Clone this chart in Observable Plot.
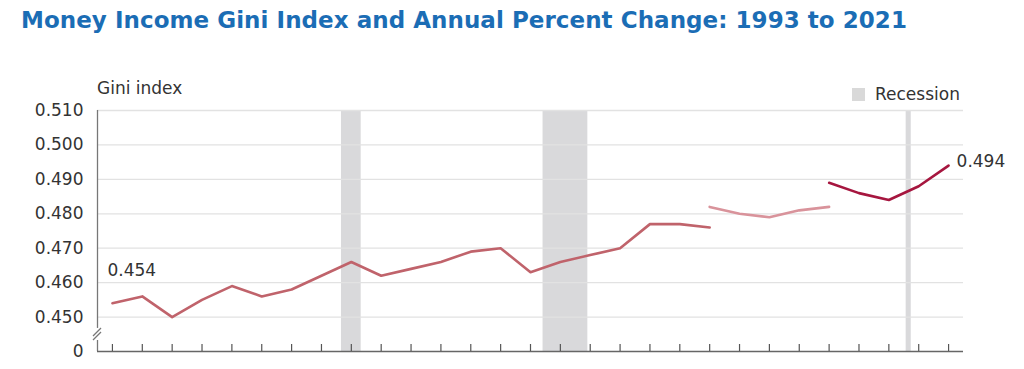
<!DOCTYPE html>
<html><head><meta charset="utf-8">
<script src="https://cdn.jsdelivr.net/npm/d3@7"></script>
<script src="https://cdn.jsdelivr.net/npm/@observablehq/plot@0.6"></script>
<style>
body{margin:0;background:#fff;font-family:"DejaVu Sans",sans-serif;}
#wrap{position:relative;width:1024px;height:369px;overflow:hidden;background:#fff;}
#title{position:absolute;left:21px;top:9px;font-size:23px;line-height:23px;font-weight:bold;color:#1b6db5;white-space:nowrap;letter-spacing:0.05px;}
#chart{position:absolute;left:0;top:42px;}
#ylabel{position:absolute;left:97px;top:80px;font-size:17px;line-height:17px;color:#333;z-index:2;}
#legend{position:absolute;left:852px;top:86px;font-size:17px;line-height:17px;color:#333;z-index:2;white-space:nowrap;}
#legend .sw{display:inline-block;width:13px;height:13px;background:#d9d9d9;margin-right:10px;vertical-align:-1px;}
</style></head><body>
<div id="wrap">
  <div id="chart"></div>
  <div id="title">Money Income Gini Index and Annual Percent Change: 1993 to 2021</div>
  <div id="ylabel">Gini index</div>
  <div id="legend"><span class="sw"></span>Recession</div>
</div>
<script>
// ---- data ----
const years1 = [1993,1994,1995,1996,1997,1998,1999,2000,2001,2002,2003,2004,2005,2006,2007,2008,2009,2010,2011,2012,2013];
const gini1  = [0.454,0.456,0.450,0.455,0.459,0.456,0.458,0.462,0.466,0.462,0.464,0.466,0.469,0.470,0.463,0.466,0.468,0.470,0.477,0.477,0.476];
const years2 = [2013,2014,2015,2016,2017];
const gini2  = [0.482,0.480,0.479,0.481,0.482];
const years3 = [2017,2018,2019,2020,2021];
const gini3  = [0.489,0.486,0.484,0.488,0.494];
const recessionStart = [2000.67, 2007.42, 2019.58];
const recessionEnd   = [2001.33, 2008.92, 2019.75];
const yTicks = [0.44,0.45,0.46,0.47,0.48,0.49,0.50,0.51];
const yTickLabels = ["0","0.450","0.460","0.470","0.480","0.490","0.500","0.510"];
const xTicks = [1993,1994,1995,1996,1997,1998,1999,2000,2001,2002,2003,2004,2005,2006,2007,2008,2009,2010,2011,2012,2013,2014,2015,2016,2017,2018,2019,2020,2021];
const firstLabel = "0.454";
const lastLabel = "0.494";

// ---- build tables ----
const seg1 = years1.map((y,i)=>({year:y, gini:gini1[i]}));
const seg2 = years2.map((y,i)=>({year:y, gini:gini2[i]}));
const seg3 = years3.map((y,i)=>({year:y, gini:gini3[i]}));
const recessions = recessionStart.map((s,i)=>({start:s, end:recessionEnd[i]}));
const xDomain = [1992.5, 2021.5];
const yDomain = [0.44, 0.51];
const breakTop = 0.4467, breakBottom = 0.4432;
const labelMap = new Map(yTicks.map((t,i)=>[t, yTickLabels[i]]));

const plot = Plot.plot({
  width: 1024,
  height: 327,
  marginTop: 68,
  marginBottom: 18,
  marginLeft: 97,
  marginRight: 61,
  style: {fontFamily: "DejaVu Sans, sans-serif", fontSize: "17px", color: "#333", background: "transparent"},
  x: {domain: xDomain, axis: null, label: null},
  y: {domain: yDomain, axis: null, label: null},
  marks: [
    Plot.rect(recessions, {x1: "start", x2: "end", fill: "#d9d9db"}),
    Plot.gridY(yTicks.slice(1), {stroke: "#e2e2e2", strokeOpacity: 1, strokeWidth: 1.3}),
    Plot.axisY({ticks: yTicks, label: null, tickSize: 0, tickPadding: 14, tickFormat: d => labelMap.get(d) ?? "", fill: "#333", fontSize: 17}),
    Plot.ruleX([xDomain[0]], {y1: breakTop, y2: yDomain[1], stroke: "#777", strokeWidth: 1.3}),
    Plot.ruleX([xDomain[0]], {y1: yDomain[0], y2: breakBottom, stroke: "#777", strokeWidth: 1.3}),
    Plot.ruleY([yDomain[0]], {stroke: "#666", strokeWidth: 1.6}),
    Plot.axisX({ticks: xTicks, label: null, tickSize: 7, dy: -7, tickFormat: () => "", stroke: "#555", strokeWidth: 1.2}),
    Plot.line(seg1, {x: "year", y: "gini", stroke: "#c0636b", strokeWidth: 2.6}),
    Plot.line(seg2, {x: "year", y: "gini", stroke: "#d9939b", strokeWidth: 2.6}),
    Plot.line(seg3, {x: "year", y: "gini", stroke: "#a6163f", strokeWidth: 2.6}),
    Plot.text([seg1[0]], {x: "year", y: "gini", text: () => firstLabel, textAnchor: "start", dx: -5, dy: -33, fill: "#333", fontSize: 17}),
    Plot.text([seg3[seg3.length-1]], {x: "year", y: "gini", text: () => lastLabel, textAnchor: "start", dx: 8, dy: -4, fill: "#333", fontSize: 17})
  ]
});
document.getElementById("chart").appendChild(plot);

// axis break marks
const sx = plot.scale("x"), sy = plot.scale("y");
const bx = sx.apply(xDomain[0]);
const by = (sy.apply(breakTop) + sy.apply(breakBottom)) / 2;
const svg = d3.select(plot);
[-2, 2].forEach(o => {
  svg.append("line")
    .attr("x1", bx - 4).attr("y1", by + 4 + o)
    .attr("x2", bx + 4).attr("y2", by - 4 + o)
    .attr("stroke", "#777").attr("stroke-width", 1.3);
});
</script>
</body></html>
